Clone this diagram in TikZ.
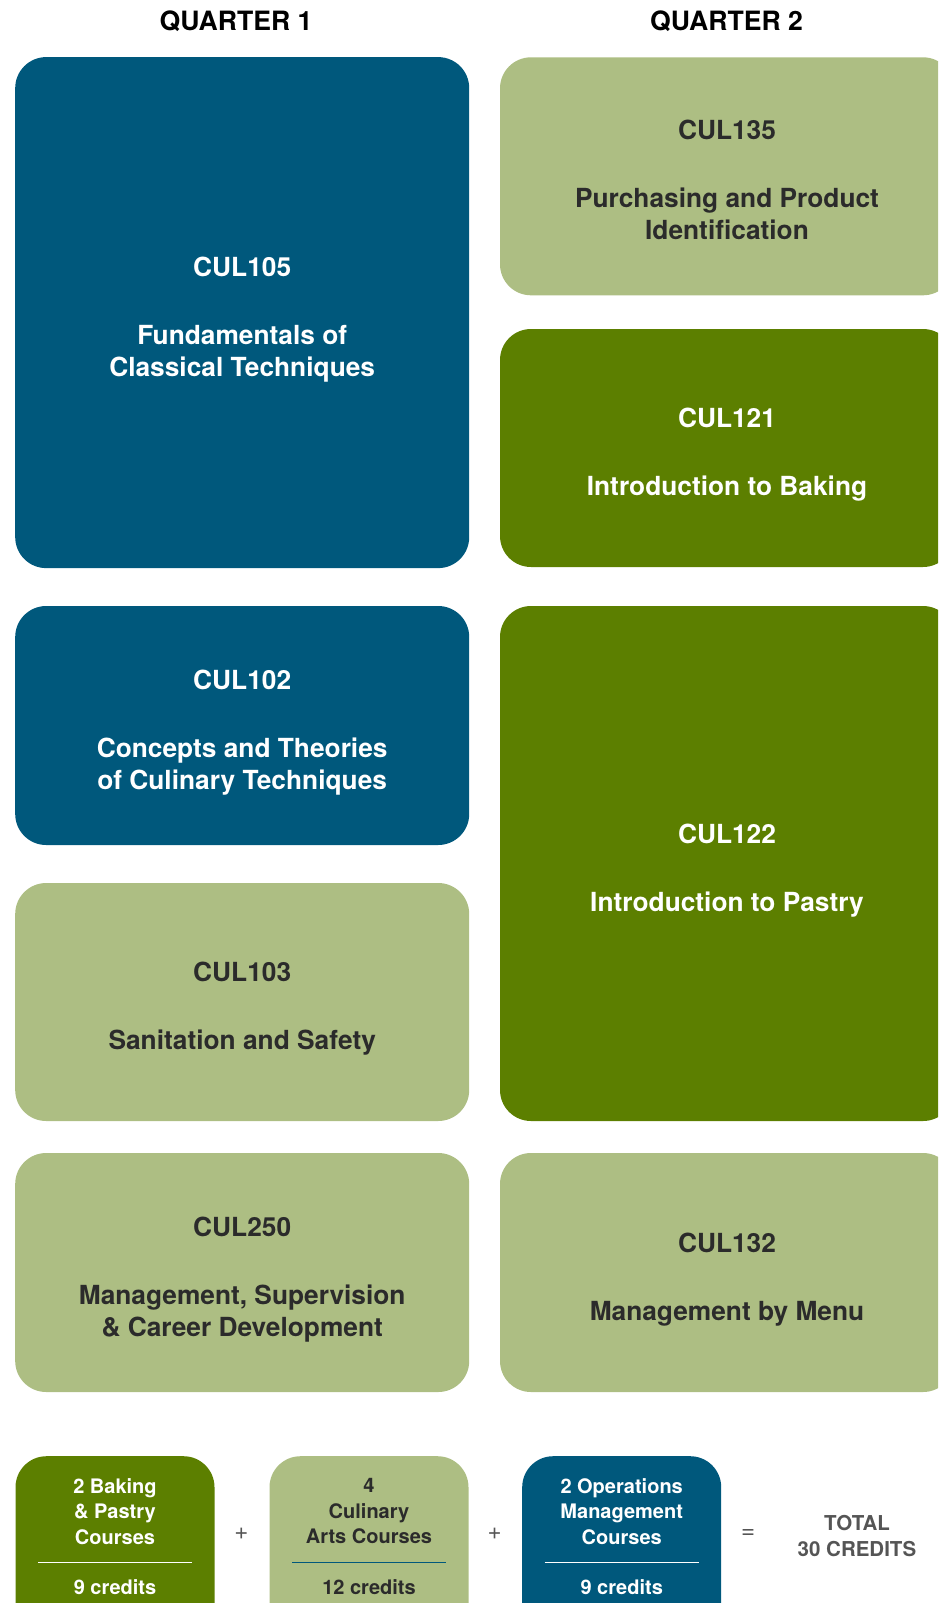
\documentclass[tikz,border=0pt]{standalone}
\usepackage{fontspec}
\setmainfont{TeX Gyre Heros}
\usepackage{xcolor}
\usepackage{tikz}
\usetikzlibrary{positioning}
\definecolor{azul}{HTML}{00587C}
\definecolor{verdeClaro}{HTML}{ADBE83}
\definecolor{verdeOscuro}{HTML}{5C7F00}
\definecolor{tinta}{HTML}{2B2B2B}
\definecolor{gris}{HTML}{555555}
\newcommand{\codigo}[2][33pt]{\rule{0pt}{#1}#2\\[36pt]}

\begin{document}
\begin{tikzpicture}[x=1pt,y=-1pt,
    curso/.style={rounded corners=31pt,minimum width=454pt,align=center,inner sep=0pt,
                  font=\fontsize{26.3}{32}\selectfont\bfseries},
    oscuro/.style={curso,fill=azul,text=white},
    horno/.style={curso,fill=verdeOscuro,text=white},
    claro/.style={curso,fill=verdeClaro,text=tinta},
    suma/.style={rounded corners=31pt,minimum width=199pt,minimum height=200pt,
                 anchor=north,inner sep=0pt},
    resumen/.style={align=center,inner sep=0pt,font=\fontsize{20}{25.5}\selectfont\bfseries},
    cabecera/.style={font=\fontsize{26.6}{30}\selectfont\bfseries,text=black}]
  \useasboundingbox (0,0) rectangle (938,1603);
  \clip (0,0) rectangle (938,1603);

  \node[cabecera] (q1) at (236,21)   {QUARTER 1};
  \node[cabecera] (q2) at (726.5,21) {QUARTER 2};

  % quarter 1
  \node[oscuro,minimum height=511pt] (c105) at (242.2,312.6)
    {\codigo{CUL105}Fundamentals of\\Classical Techniques};
  \node[oscuro,minimum height=239pt] (c102) at (242.2,725.5)
    {\codigo{CUL102}Concepts and Theories\\of Culinary Techniques};
  \node[claro,minimum height=238pt] (c103) at (242.2,1002)
    {\codigo{CUL103}Sanitation and Safety};
  \node[claro,minimum height=239pt] (c250) at (242.2,1272.5)
    {\codigo{CUL250}Management, Supervision\\\& Career Development};

  % quarter 2
  \node[claro,minimum height=238pt] (c135) at (727,176.3)
    {\codigo[27pt]{CUL135}Purchasing and Product\\Identification};
  \node[horno,minimum height=238pt] (c121) at (727,448)
    {\codigo{CUL121}Introduction to Baking};
  \node[horno,minimum height=515pt] (c122) at (727,863.5)
    {\codigo{CUL122}Introduction to Pastry};
  \node[claro,minimum height=239pt] (c132) at (727,1272.5)
    {\codigo{CUL132}Management by Menu};

  % totals
  \foreach \n/\x/\fondo/\letra/\regla/\lineas/\creditos in {
      bp/115/verdeOscuro/white/white/{2 Baking\\\& Pastry\\Courses}/9,
      ca/369/verdeClaro/tinta/azul/{4\\Culinary\\Arts Courses}/12,
      om/621.7/azul/white/white/{2 Operations\\Management\\Courses}/9}{
    \node[suma,fill=\fondo] (\n) at (\x,1456) {};
    \node[resumen,text=\letra] (\n-txt) at (\x,1511.3) {\lineas};
    \draw[\regla,line width=1.3pt] (\x-77,1562.3) -- (\x+77,1562.3);
    \node[resumen,text=\letra] (\n-cr) at (\x,1587) {\creditos\ credits};
  }

  \node[font=\fontsize{24}{26}\selectfont,text=gris] (mas1) at (241.5,1534) {+};
  \node[font=\fontsize{24}{26}\selectfont,text=gris] (mas2) at (494.6,1534) {+};
  \node[font=\fontsize{24}{26}\selectfont,text=gris] (igual) at (748,1534) {=};
  \node[resumen,text=gris,font=\fontsize{20.5}{26.5}\selectfont\bfseries] (total)
    at (857,1536) {TOTAL\\30 CREDITS};
\end{tikzpicture}
\end{document}
